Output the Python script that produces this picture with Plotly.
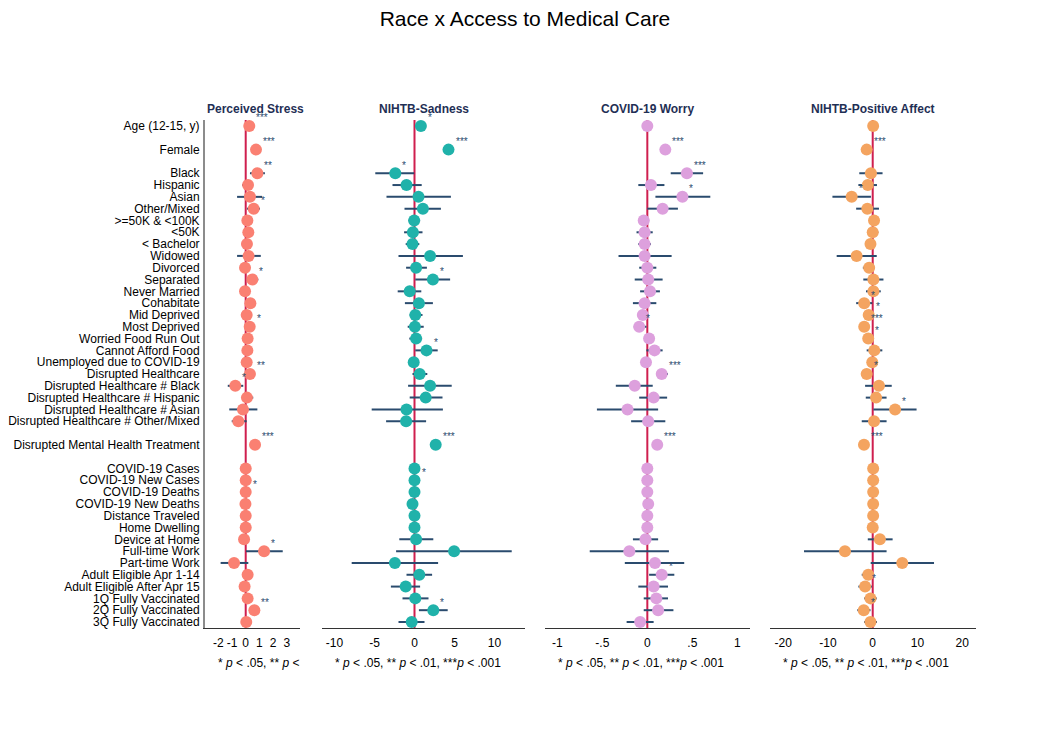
import plotly.graph_objects as go

# ---------------- data ----------------
labels = [
    "Age (12-15, y)", "Female", "Black", "Hispanic", "Asian", "Other/Mixed",
    ">=50K & <100K", "<50K", "< Bachelor", "Widowed", "Divorced", "Separated",
    "Never Married", "Cohabitate", "Mid Deprived", "Most Deprived",
    "Worried Food Run Out", "Cannot Afford Food", "Unemployed due to COVID-19",
    "Disrupted Healthcare", "Disrupted Healthcare # Black",
    "Disrupted Healthcare # Hispanic", "Disrupted Healthcare # Asian",
    "Disrupted Healthcare # Other/Mixed", "Disrupted Mental Health Treatment",
    "COVID-19 Cases", "COVID-19 New Cases", "COVID-19 Deaths", "COVID-19 New Deaths",
    "Distance Traveled", "Home Dwelling", "Device at Home", "Full-time Work",
    "Part-time Work", "Adult Eligible Apr 1-14", "Adult Eligible After Apr 15",
    "1Q Fully Vaccinated", "2Q Fully Vaccinated", "3Q Fully Vaccinated",
]
gap_before = ["Female", "Black", "Disrupted Mental Health Treatment", "COVID-19 Cases"]

panel_titles = ["Perceived Stress", "NIHTB-Sadness", "COVID-19 Worry", "NIHTB-Positive Affect"]

ps_coef = [0.26, 0.75, 0.85, 0.17, 0.31, 0.58, 0.12, 0.19, 0.09, 0.21, -0.05, 0.48, -0.05, 0.34,
           0.07, 0.29, 0.14, 0.12, 0.07, 0.31, -0.76, 0.09, -0.20, -0.54, 0.68,
           0.0, 0.0, 0.0, -0.02, 0.0, 0.0, -0.12, 1.34, -0.85, 0.14, -0.08, 0.14, 0.63, 0.04]
ps_lo = [0.18, 0.55, 0.31, -0.27, -0.63, 0.09, -0.15, -0.15, -0.20, -0.63, -0.35, 0.07, -0.30, 0.0,
         -0.20, 0.0, -0.15, -0.20, -0.15, 0.05, -1.31, -0.29, -1.20, -1.02, 0.45,
         -0.05, -0.05, -0.05, -0.07, -0.05, -0.05, -0.40, 0.02, -1.83, -0.20, -0.45, -0.10, 0.25, -0.30]
ps_hi = [0.34, 0.95, 1.40, 0.53, 1.19, 1.04, 0.40, 0.50, 0.38, 1.10, 0.25, 0.92, 0.20, 0.65,
         0.35, 0.55, 0.40, 0.45, 0.30, 0.55, -0.18, 0.55, 0.85, 0.07, 0.90,
         0.05, 0.05, 0.05, 0.03, 0.05, 0.05, 0.15, 2.70, 0.19, 0.45, 0.28, 0.40, 1.00, 0.40]
ps_sig = ["***", "***", "**", "", "", "*", "", "", "", "", "", "*", "", "",
          "", "*", "", "", "", "**", "*", "", "", "", "***",
          "", "", "*", "", "", "", "", "*", "", "", "", "", "**", ""]

sad_coef = [0.8, 4.25, -2.4, -1.0, 0.5, 1.05, -0.04, -0.2, -0.25, 1.95, 0.2, 2.3, -0.6, 0.55,
            0.1, 0.05, 0.2, 1.5, -0.1, 0.65, 1.95, 1.4, -1.0, -1.05, 2.65,
            0.0, 0.0, 0.0, -0.25, 0.0, 0.0, 0.2, 4.95, -2.45, 0.6, -1.1, 0.1, 2.35, -0.35]
sad_lo = [0.6, 3.8, -4.9, -2.75, -3.5, -1.25, -0.75, -1.3, -1.1, -2.0, -1.05, 0.1, -2.1, -1.2,
          -0.6, -0.85, -0.65, 0.1, -0.6, -0.25, -0.8, -0.6, -5.35, -3.55, 2.1,
          -0.1, -0.1, -0.1, -0.35, -0.1, -0.1, -1.9, -2.3, -7.85, -1.0, -2.95, -1.5, 0.55, -2.0]
sad_hi = [1.0, 4.7, -0.04, 0.9, 4.55, 3.3, 0.7, 1.0, 0.6, 6.05, 1.55, 4.45, 0.85, 2.3,
          1.0, 1.15, 0.95, 2.9, 0.4, 1.6, 4.65, 3.5, 3.55, 1.45, 3.2,
          0.1, 0.1, 0.1, -0.15, 0.1, 0.1, 2.35, 12.15, 2.95, 2.2, 0.7, 1.75, 4.15, 1.25]
sad_sig = ["*", "***", "*", "", "", "", "", "", "", "", "", "*", "", "",
           "", "", "", "*", "", "", "", "", "", "", "***",
           "", "*", "", "", "", "", "", "", "", "", "", "", "*", ""]

wor_coef = [0.0, 0.2, 0.44, 0.04, 0.39, 0.17, -0.04, -0.03, -0.03, -0.03, 0.0, 0.01, 0.03, -0.03,
            -0.05, -0.09, 0.02, 0.08, -0.015, 0.16, -0.14, 0.07, -0.22, 0.01, 0.11,
            0.0, 0.0, 0.0, 0.01, 0.0, 0.0, -0.02, -0.2, 0.085, 0.16, 0.07, 0.10, 0.12, -0.08]
wor_lo = [-0.02, 0.15, 0.26, -0.10, 0.09, 0.0, -0.09, -0.12, -0.10, -0.32, -0.09, -0.14, -0.08, -0.16,
          -0.11, -0.15, -0.03, -0.01, -0.06, 0.10, -0.35, -0.09, -0.56, -0.18, 0.06,
          -0.01, -0.01, -0.01, 0.0, -0.01, -0.01, -0.16, -0.64, -0.25, 0.02, -0.10, -0.04, -0.04, -0.23]
wor_hi = [0.02, 0.25, 0.62, 0.19, 0.70, 0.34, 0.02, 0.06, 0.04, 0.27, 0.10, 0.17, 0.14, 0.10,
          0.0, -0.01, 0.07, 0.17, 0.03, 0.23, 0.06, 0.22, 0.12, 0.20, 0.16,
          0.01, 0.01, 0.01, 0.02, 0.01, 0.01, 0.12, 0.24, 0.41, 0.30, 0.23, 0.23, 0.29, 0.07]
wor_sig = ["", "***", "***", "", "*", "", "", "", "", "", "", "", "", "",
           "", "*", "", "", "", "***", "", "", "", "", "***",
           "", "", "", "", "", "", "", "", "", "*", "", "", "", ""]

pa_coef = [0.1, -1.35, -0.4, -1.1, -4.7, -1.2, 0.3, 0.0, -0.5, -3.6, -0.8, 0.15, 0.15, -1.9,
           -0.9, -1.9, -1.0, 0.35, -0.1, -1.35, 1.4, 0.75, 5.0, 0.3, -1.95,
           0.1, 0.1, 0.1, 0.1, 0.1, 0.0, 1.6, -6.2, 6.6, -1.0, -1.7, -0.5, -2.0, -0.5]
pa_lo = [-0.1, -2.0, -3.0, -3.2, -9.0, -3.7, -0.8, -1.1, -1.5, -8.05, -2.2, -2.1, -1.5, -3.7,
         -1.7, -2.8, -1.8, -1.35, -1.0, -2.2, -1.7, -1.55, 0.15, -2.45, -2.8,
         0.0, 0.0, 0.0, 0.0, 0.0, -0.1, -1.1, -15.35, -0.45, -2.45, -3.2, -1.9, -3.45, -1.9]
pa_hi = [0.3, -0.7, 2.2, 0.95, -0.4, 1.4, 1.3, 1.25, 0.5, 0.9, 0.5, 2.4, 1.8, -0.1,
         -0.1, -1.0, -0.2, 2.15, 0.8, -0.5, 4.25, 3.1, 9.8, 3.1, -1.1,
         0.2, 0.2, 0.2, 0.2, 0.2, 0.1, 4.45, 3.1, 13.7, 0.35, -0.2, 0.9, -0.5, 0.95]
pa_sig = ["", "***", "", "", "*", "", "", "", "", "", "", "", "", "*",
          "*", "***", "*", "", "", "*", "", "", "*", "", "***",
          "", "", "", "", "", "", "", "", "", "", "*", "", "*", ""]

ps_ticks = [-2, -1, 0, 1, 2, 3]
ps_ticktext = ["-2", "-1", "0", "1", "2", "3"]
sad_ticks = [-10, -5, 0, 5, 10]
sad_ticktext = ["-10", "-5", "0", "5", "10"]
wor_ticks = [-1, -0.5, 0, 0.5, 1]
wor_ticktext = ["-1", "-.5", "0", ".5", "1"]
pa_ticks = [-20, -10, 0, 10, 20]
pa_ticktext = ["-20", "-10", "0", "10", "20"]

footnote = "* <i>p</i> < .05, ** <i>p</i> < .01, ***<i>p</i> < .001"
footnote_clipped = "* <i>p</i> < .05, ** <i>p</i> <"

# ---------------- layout helpers ----------------
OFF = 8                      # page body margin of the html page
W, H = 1044 - OFF, 746 - OFF
FONT = "Liberation Sans, Arial, Helvetica, sans-serif"
NAVY = "#2a4b6e"
TITLE_NAVY = "#1f2f55"
RED = "#cf1f4f"


def fx(px):
    return (px - OFF) / W


def fy(py):
    return 1 - (py - OFF) / H


pos = []
p = -1
for lab in labels:
    p += 2 if lab in gap_before else 1
    pos.append(p)

panels = [
    dict(coef=ps_coef, lo=ps_lo, hi=ps_hi, sig=ps_sig, color="#FA8072",
         tv=ps_ticks, tt=ps_ticktext, rng=[-2.97, 3.96], px=(205, 300)),
    dict(coef=sad_coef, lo=sad_lo, hi=sad_hi, sig=sad_sig, color="#20B2AA",
         tv=sad_ticks, tt=sad_ticktext, rng=[-11.56, 13.81], px=(322, 525)),
    dict(coef=wor_coef, lo=wor_lo, hi=wor_hi, sig=wor_sig, color="#DDA0DD",
         tv=wor_ticks, tt=wor_ticktext, rng=[-1.137, 1.141], px=(545, 750)),
    dict(coef=pa_coef, lo=pa_lo, hi=pa_hi, sig=pa_sig, color="#F4A460",
         tv=pa_ticks, tt=pa_ticktext, rng=[-22.95, 23.08], px=(770, 976)),
]

ydom = [fy(628), fy(120)]
yrange = [pos[-1] + 0.508, -0.508]

fig = go.Figure()
annotations = []
shapes = []
layout_axes = {}

for i, pn in enumerate(panels):
    k = "" if i == 0 else str(i + 1)
    xr, yr = "x" + k, "y" + k
    err_plus = [h - c for h, c in zip(pn["hi"], pn["coef"])]
    err_minus = [c - l for c, l in zip(pn["coef"], pn["lo"])]
    fig.add_trace(go.Scatter(
        x=pn["coef"], y=pos, mode="markers", xaxis=xr, yaxis=yr,
        marker=dict(size=12, color=pn["color"], line=dict(width=0)),
        error_x=dict(type="data", symmetric=False, array=err_plus, arrayminus=err_minus,
                     color=NAVY, thickness=2, width=0),
        hoverinfo="skip", showlegend=False, cliponaxis=False,
    ))
    d0, d1 = fx(pn["px"][0]), fx(pn["px"][1])
    layout_axes["xaxis" + k] = dict(
        domain=[d0, d1], range=pn["rng"], anchor=yr, showgrid=False, zeroline=False,
        showline=True, linecolor="#333333", linewidth=1, ticks="",
        tickvals=pn["tv"], ticktext=pn["tt"], ticklabelstandoff=4,
        tickfont=dict(family=FONT, size=12, color="black"), fixedrange=True,
    )
    yax = dict(domain=ydom, range=yrange, anchor=xr, showgrid=False, zeroline=False,
               fixedrange=True, automargin=False)
    if i == 0:
        yax.update(showline=True, linecolor="#8c8c8c", linewidth=2, ticks="",
                   tickvals=pos, ticktext=labels, ticklabelstandoff=1,
                   tickfont=dict(family=FONT, size=12, color="black"))
    else:
        yax.update(showline=False, showticklabels=False)
    layout_axes["yaxis" + k] = yax

    shapes.append(dict(type="line", xref=xr, yref=yr + " domain", x0=0, x1=0, y0=0, y1=1,
                       line=dict(color=RED, width=2), layer="below"))

    # panel title
    if i == 0:
        annotations.append(dict(text="<b>" + panel_titles[i] + "</b>", xref="paper", yref="paper",
                                x=d0, y=fy(109), xanchor="left", yanchor="middle",
                                showarrow=False, font=dict(family=FONT, size=12, color=TITLE_NAVY)))
    else:
        annotations.append(dict(text="<b>" + panel_titles[i] + "</b>", xref="paper", yref="paper",
                                x=(d0 + d1) / 2, y=fy(109), xanchor="center", yanchor="middle",
                                showarrow=False, font=dict(family=FONT, size=12, color=TITLE_NAVY)))
    # footnote
    annotations.append(dict(text=footnote_clipped if i == 0 else footnote,
                            xref="paper", yref="paper", x=fx(pn["px"][0] + 11), y=fy(663),
                            xanchor="left", yanchor="middle", showarrow=False,
                            font=dict(family=FONT, size=12, color="black")))
    # significance stars
    for c, yy, s in zip(pn["coef"], pos, pn["sig"]):
        if s:
            annotations.append(dict(text=s, xref=xr, yref=yr, x=c, y=yy, xanchor="left",
                                    yanchor="middle", xshift=5, yshift=8, showarrow=False,
                                    font=dict(family=FONT, size=10, color=NAVY)))

fig.update_layout(
    width=W, height=H, margin=dict(l=0, r=0, t=0, b=0),
    paper_bgcolor="white", plot_bgcolor="white", showlegend=False,
    title=dict(text="Race x Access to Medical Care", x=fx(525), xanchor="center",
               y=fy(19), yanchor="middle",
               font=dict(family=FONT, size=21, color="black")),
    annotations=annotations, shapes=shapes, **layout_axes,
)

fig.write_html("out.html")
